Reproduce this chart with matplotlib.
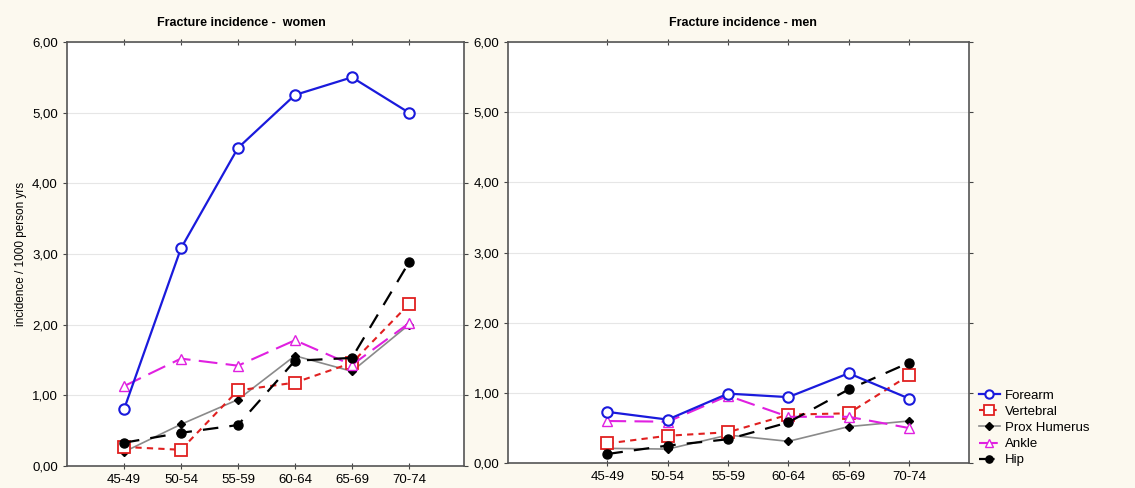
import matplotlib
matplotlib.use("Agg")
import matplotlib.pyplot as plt
from matplotlib.ticker import FuncFormatter

categories = ["45-49", "50-54", "55-59", "60-64", "65-69", "70-74"]
series_names = ["Forearm", "Vertebral", "Prox Humerus", "Ankle", "Hip"]

women_forearm = [0.80, 3.08, 4.50, 5.25, 5.50, 5.00]
women_vertebral = [0.27, 0.23, 1.07, 1.18, 1.46, 2.29]
women_prox_humerus = [0.20, 0.59, 0.94, 1.56, 1.34, 2.00]
women_ankle = [1.13, 1.52, 1.42, 1.78, 1.43, 2.02]
women_hip = [0.33, 0.47, 0.58, 1.49, 1.53, 2.88]

men_forearm = [0.73, 0.62, 0.99, 0.94, 1.28, 0.92]
men_vertebral = [0.28, 0.39, 0.44, 0.69, 0.71, 1.25]
men_prox_humerus = [0.21, 0.20, 0.40, 0.31, 0.52, 0.60]
men_ankle = [0.60, 0.59, 0.96, 0.66, 0.66, 0.50]
men_hip = [0.13, 0.25, 0.34, 0.58, 1.05, 1.43]

y_ticks = [0, 1, 2, 3, 4, 5, 6]

styles = {
    "Forearm": dict(color="#1a1adc", linestyle="-", lw=1.6, marker="o", ms=7.5,
                    mfc="white", mec="#1a1adc", mew=1.5, zorder=5),
    "Vertebral": dict(color="#e02020", linestyle=(0, (3, 2.5)), lw=1.5, marker="s", ms=8.5,
                      mfc="white", mec="#e02020", mew=1.3, zorder=4),
    "Prox Humerus": dict(color="#8a8a8a", linestyle="-", lw=1.2, marker="D", ms=4.5,
                         mfc="black", mec="black", zorder=3),
    "Ankle": dict(color="#e020e0", linestyle=(0, (9, 4)), lw=1.5, marker="^", ms=7,
                  mfc="white", mec="#e020e0", mew=1.0, zorder=4),
    "Hip": dict(color="black", linestyle=(0, (7, 5)), lw=1.6, marker="o", ms=6.5,
                mfc="black", mec="black", zorder=4),
}

bg = "#fcf9ef"
fig = plt.figure(figsize=(11.35, 4.88), dpi=100, facecolor=bg)
plt.rcParams["font.family"] = ["Liberation Sans", "DejaVu Sans"]

ax1 = fig.add_axes([0.059, 0.045, 0.350, 0.869])
ax2 = fig.add_axes([0.448, 0.051, 0.406, 0.863])

fmt = FuncFormatter(lambda v, p: f"{v:.2f}".replace(".", ","))

datasets = [
    (ax1, [women_forearm, women_vertebral, women_prox_humerus, women_ankle, women_hip], (-1.0, 5.97)),
    (ax2, [men_forearm, men_vertebral, men_prox_humerus, men_ankle, men_hip], (-1.64, 6.0)),
]
x = list(range(len(categories)))
for ax, data, xl in datasets:
    ax.set_facecolor("white")
    for name, vals in zip(series_names, data):
        ax.plot(x, vals, label=name, **styles[name])
    ax.set_xlim(*xl)
    ax.set_ylim(0, 6)
    ax.set_yticks(y_ticks)
    ax.yaxis.set_major_formatter(fmt)
    ax.set_xticks(x)
    ax.set_xticklabels(categories)
    ax.grid(axis="y", color="#e6e6e6", lw=0.8)
    ax.set_axisbelow(True)
    ax.tick_params(axis="both", labelsize=9.5, color="#444444", length=3,
                   top=True, right=True, direction="out")
    ax.tick_params(axis="x", top=True, direction="inout", length=4)
    for s in ax.spines.values():
        s.set_color("#555555")
        s.set_linewidth(1.2)

ax1.set_ylabel("incidence / 1000 person yrs", fontsize=8.5)
fig.text(0.213, 0.952, "Fracture incidence -  women", ha="center", va="center",
         fontsize=9, fontweight="bold")
fig.text(0.655, 0.952, "Fracture incidence - men", ha="center", va="center",
         fontsize=9, fontweight="bold")

handles, labels = ax2.get_legend_handles_labels()
fig.legend(handles, labels, loc="lower left", bbox_to_anchor=(0.852, 0.02),
           frameon=False, fontsize=9.5, handlelength=1.6, handletextpad=0.4,
           labelspacing=0.3, markerscale=0.8)

fig.savefig("out.png", dpi=100, facecolor=bg)
